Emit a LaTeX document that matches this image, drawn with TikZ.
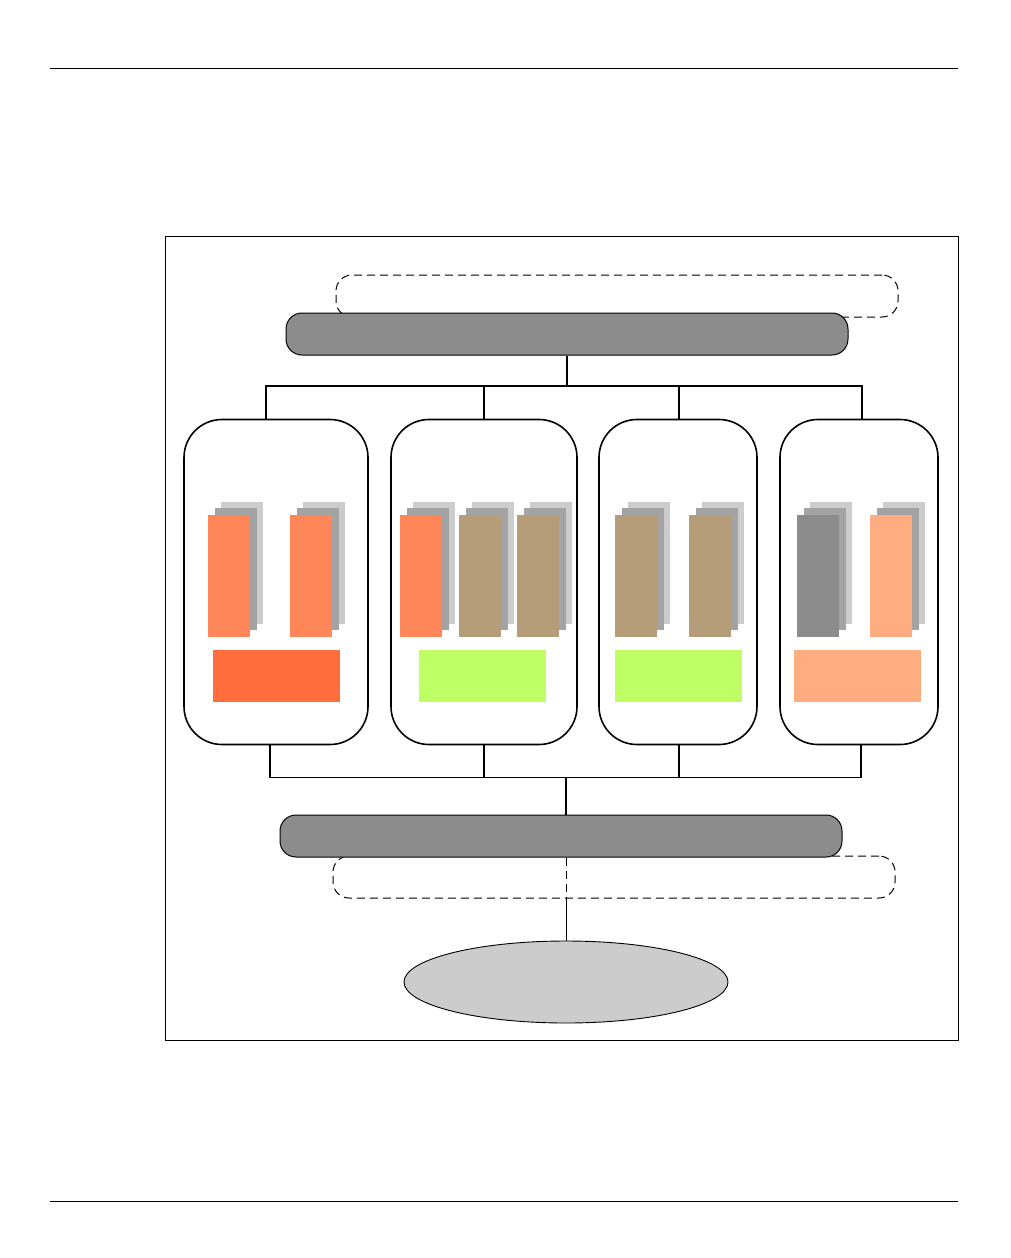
\documentclass[tikz,border=0pt]{standalone}
\usetikzlibrary{shapes.geometric}

\definecolor{bargray}{HTML}{8C8C8C}
\definecolor{midgray}{HTML}{A3A3A3}
\definecolor{palegray}{HTML}{CCCCCC}
\definecolor{coral}{HTML}{FF8659}
\definecolor{redorange}{HTML}{FF6D3D}
\definecolor{tan}{HTML}{B59D7A}
\definecolor{lime}{HTML}{BFFF66}
\definecolor{salmon}{HTML}{FFAD80}

% one stack of cards, front card at (#1,#2)
\newcommand{\cardstack}[3]{
    \fill[palegray] (#1+13,#2-13) rectangle ++(42,122);
    \fill[midgray]  (#1+7,#2-7)   rectangle ++(42,122);
    \fill[#3]       (#1,#2)       rectangle ++(42,122);
}

\begin{document}
\begin{tikzpicture}[
                    x=1pt, y=-1pt,
                    bar/.style={draw, line width=1pt, fill=bargray, rounded corners=16pt,
                                minimum width=562pt, minimum height=42pt, inner sep=0pt},
                    cloud/.style={draw, line width=1pt, dash pattern=on 8pt off 5pt, rounded corners=16pt,
                                  minimum width=562pt, minimum height=42pt, inner sep=0pt},
                    host/.style={draw, line width=1.6pt, rounded corners=38pt,
                                 minimum height=325pt, inner sep=0pt},
                    tray/.style={minimum width=127pt, minimum height=52pt, inner sep=0pt},
                    link/.style={line width=1.6pt}
                ]
                \useasboundingbox (0,0) rectangle (1010,1258);

                % page rules and frame
                \draw[line width=0.8pt] (50,68) -- (958,68);
                \draw[line width=0.8pt] (50,1201) -- (958,1201);
                \draw[line width=0.8pt] (165,236) rectangle (958,1040);

                % top
                \node[cloud] (topcloud) at (617,296) {};
                \node[bar]   (topbar)   at (567,334) {};

                % hosts
                \node[host, minimum width=184pt] (h1) at (276,582) {};
                \node[host, minimum width=186pt] (h2) at (484,582) {};
                \node[host, minimum width=158pt] (h3) at (678,582) {};
                \node[host, minimum width=158pt] (h4) at (859,582) {};

                \cardstack{208}{515}{coral}
                \cardstack{290}{515}{coral}
                \cardstack{400}{515}{coral}
                \cardstack{459}{515}{tan}
                \cardstack{517}{515}{tan}
                \cardstack{615}{515}{tan}
                \cardstack{689}{515}{tan}
                \cardstack{797}{515}{bargray}
                \cardstack{870}{515}{salmon}

                \node[tray, fill=redorange] (t1) at (276.5,676) {};
                \node[tray, fill=lime]      (t2) at (482.5,676) {};
                \node[tray, fill=lime]      (t3) at (678.5,676) {};
                \node[tray, fill=salmon]    (t4) at (857.5,676) {};

                % bottom
                \node[cloud] (botcloud) at (614,877) {};
                \node[bar]   (botbar)   at (561,836) {};
                \node[ellipse, draw, line width=0.9pt, fill=palegray,
                      minimum width=324pt, minimum height=82pt] (store) at (566,982) {};

                % links above the hosts
                \coordinate (tjoin) at (567,387);
                \draw[link] (topbar.south -| tjoin) -- (tjoin);
                \draw[link] ([xshift=-10pt]h1.north) -- ++(0,-33) -| ([xshift=3pt]h4.north);
                \draw[link] (h2.north) -- ++(0,-33);
                \draw[link] ([xshift=1pt]h3.north) -- ++(0,-33);

                % links below the hosts
                \coordinate (bjoin) at (566,777);
                \draw[link] ([xshift=-6pt]h1.south) -- ++(0,32) -| ([xshift=2pt]h4.south);
                \draw[link] (h2.south) -- ++(0,32);
                \draw[link] ([xshift=1pt]h3.south) -- ++(0,32);
                \draw[link] (bjoin) -- (botbar.north -| bjoin);

                \draw[line width=1pt, dash pattern=on 8pt off 5pt] (botbar.south -| bjoin) -- (botcloud.south -| bjoin);
                \draw[line width=1pt] (botcloud.south -| bjoin) -- (store.north);

            \end{tikzpicture}
\end{document}
